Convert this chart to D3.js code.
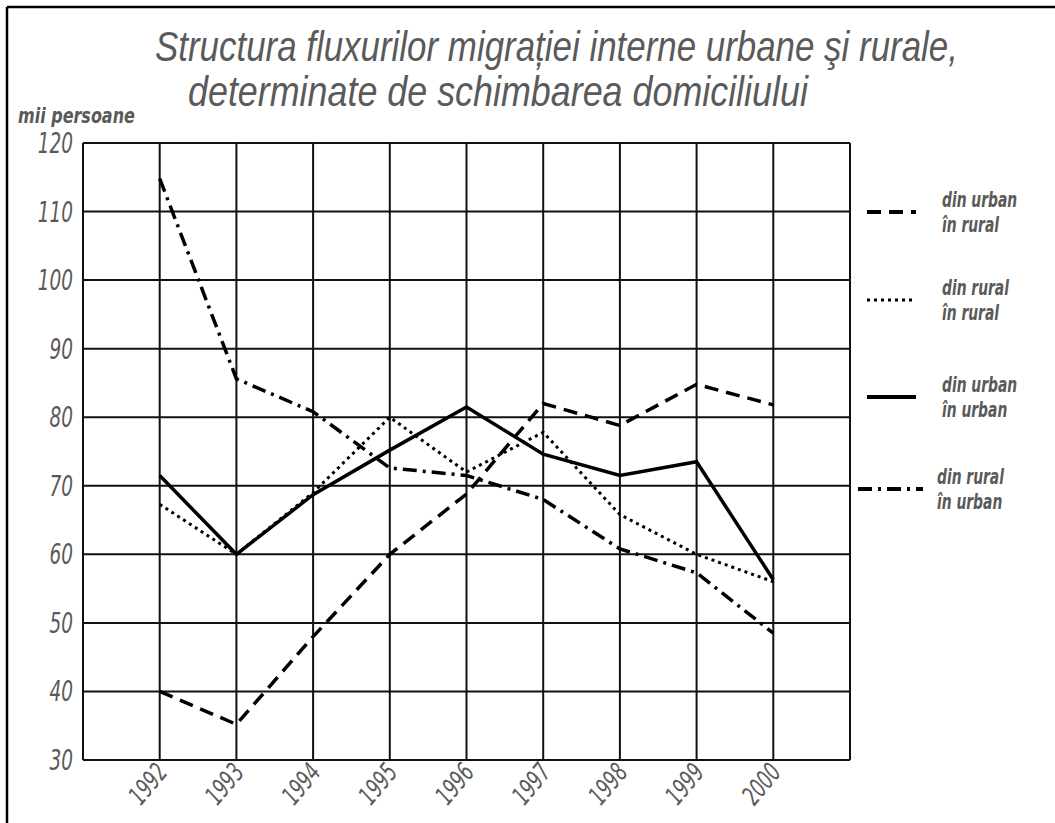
<!DOCTYPE html>
<html>
<head>
<meta charset="utf-8">
<script src="https://cdn.jsdelivr.net/npm/d3@7"></script>
<style>
  body { margin: 0; background: #fff; }
  text { font-family: "DejaVu Sans", sans-serif; font-style: italic; }
</style>
</head>
<body>
<svg width="1055" height="823"></svg>
<script>
var years = [1992, 1993, 1994, 1995, 1996, 1997, 1998, 1999, 2000];
var yTicks = [30, 40, 50, 60, 70, 80, 90, 100, 110, 120];

// mii persoane
var urbanRural = [40, 35.2, 48, 60, 68.8, 82, 78.8, 84.8, 81.8];
var ruralRural = [67.3, 60, 69, 80, 72, 77.8, 65.8, 60, 56];
var urbanUrban = [71.5, 60, 68.7, 75.2, 81.5, 74.6, 71.5, 73.5, 56.3];
var ruralUrban = [114.8, 85.6, 80.8, 72.6, 71.5, 68, 60.8, 57.3, 48.5];

var seriesNames = [['din urban', 'în rural'], ['din rural', 'în rural'], ['din urban', 'în urban'], ['din rural', 'în urban']];
var seriesDash = ['14 8', '3 4', null, '14 6 3 6'];

var series = [urbanRural, ruralRural, urbanUrban, ruralUrban];

var svg = d3.select('svg'),
  width = +svg.attr('width'),
  height = +svg.attr('height');

var m = { left: 83, right: 850, top: 143, bottom: 760 };
var grey = '#5a5a5a';

var x = d3.scaleLinear().domain([1991, 2001]).range([m.left, m.right]);
var y = d3.scaleLinear().domain([30, 120]).range([m.bottom, m.top]);

// narrow text: squeeze horizontally
var sq = 0.66;

// frame of the picture
svg.append('line').attr('x1', 7).attr('x2', width).attr('y1', 7).attr('y2', 7)
  .attr('stroke', '#000').attr('stroke-width', 2.5);
svg.append('line').attr('x1', 7).attr('x2', 7).attr('y1', 7).attr('y2', height)
  .attr('stroke', '#000').attr('stroke-width', 2.5);

// title, squeezed to the width it has in the picture
function fitText(tx, ty, w, size, str, bold) {
  var t = svg.append('text')
    .attr('font-size', size).attr('fill', grey)
    .attr('font-weight', bold ? 'bold' : null)
    .style('font-family', bold ? null : '"Liberation Sans", sans-serif')
    .text(str);
  var k = w / t.node().getComputedTextLength();
  t.attr('transform', 'translate(' + tx + ',' + ty + ') scale(' + k + ',1)');
}
fitText(155, 61, 803, 42, 'Structura fluxurilor migrației interne urbane şi rurale,');
fitText(188, 106, 620, 42, 'determinate de schimbarea domiciliului');
fitText(18, 123, 117, 22, 'mii persoane', true);

// grid
var grid = svg.append('g').attr('stroke', '#111').attr('stroke-width', 2);
grid.selectAll('line.h').data(yTicks).enter().append('line')
  .attr('x1', m.left).attr('x2', m.right)
  .attr('y1', function (d) { return y(d); })
  .attr('y2', function (d) { return y(d); });
grid.selectAll('line.v').data([1991].concat(years, [2001])).enter().append('line')
  .attr('y1', m.top).attr('y2', m.bottom)
  .attr('x1', function (d) { return x(d); })
  .attr('x2', function (d) { return x(d); });

// y labels
svg.append('g').selectAll('text').data(yTicks).enter().append('text')
  .attr('text-anchor', 'end')
  .attr('transform', function (d) { return 'translate(73,' + (y(d) + 10) + ') scale(' + sq + ',1)'; })
  .attr('font-size', 28).attr('fill', grey)
  .text(function (d) { return d; });

// x labels
svg.append('g').selectAll('text').data(years).enter().append('text')
  .attr('text-anchor', 'end')
  .attr('transform', function (d) { return 'translate(' + (x(d) + 9) + ',' + (m.bottom + 13) + ') rotate(-50) scale(' + sq + ',1)'; })
  .attr('font-size', 26).attr('fill', grey)
  .text(function (d) { return d; });

// lines
var line = d3.line()
  .x(function (d, i) { return x(years[i]); })
  .y(function (d) { return y(d); });

svg.append('g').selectAll('path').data(series).enter().append('path')
  .attr('d', line)
  .attr('fill', 'none')
  .attr('stroke', '#000')
  .attr('stroke-width', function (d, i) { return i === 1 ? 3 : 3.5; })
  .attr('stroke-dasharray', function (d, i) { return seriesDash[i]; });

// legend
var legendY = [212, 300, 397, 489];
var lg = svg.append('g').selectAll('g').data(seriesNames).enter().append('g');
lg.append('line')
  .attr('x1', function (d, i) { return i === 3 ? 858 : 867; })
  .attr('x2', function (d, i) { return i === 3 ? 923 : 916; })
  .attr('y1', function (d, i) { return legendY[i]; })
  .attr('y2', function (d, i) { return legendY[i]; })
  .attr('stroke', '#000')
  .attr('stroke-width', function (d, i) { return i === 1 ? 3 : 4; })
  .attr('stroke-dasharray', function (d, i) { return seriesDash[i]; });
lg.each(function (d, i) {
  var g = d3.select(this);
  d.forEach(function (s, j) {
    g.append('text')
      .attr('transform', 'translate(' + (i === 3 ? 937 : 942) + ',' + (legendY[i] - 5 + j * 25) + ') scale(' + sq + ',1)')
      .attr('font-size', 21).attr('font-weight', 'bold').attr('fill', grey)
      .text(s);
  });
});
</script>
</body>
</html>
